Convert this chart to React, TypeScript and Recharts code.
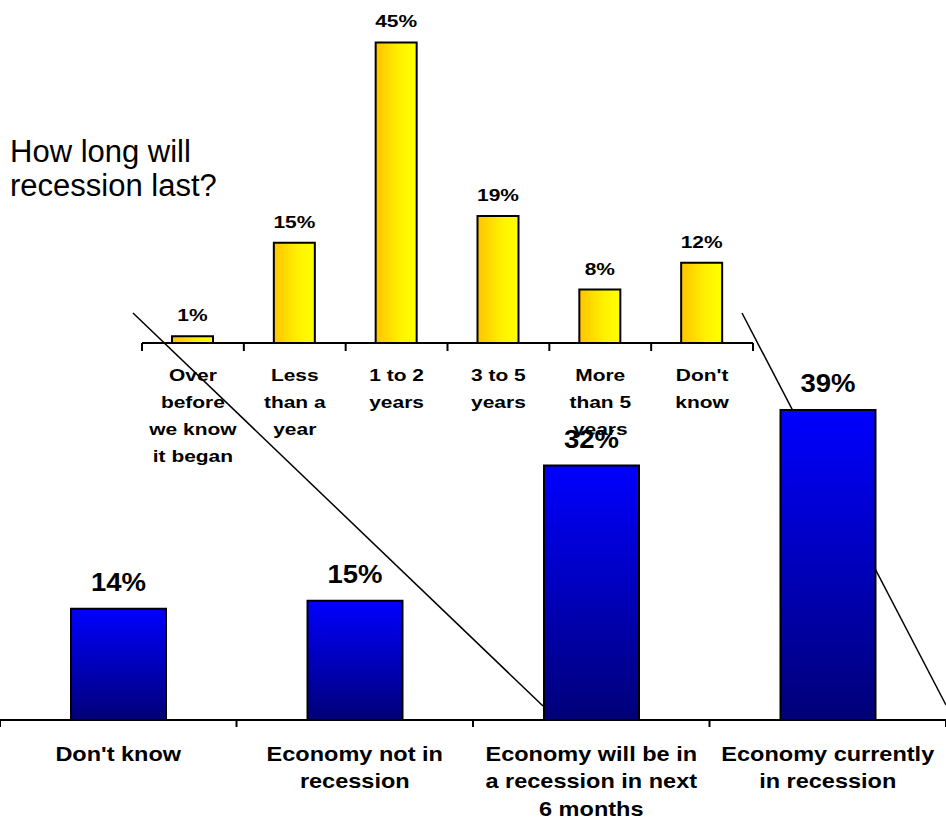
import React from 'react';
import { BarChart, Bar, XAxis, YAxis, LabelList } from 'recharts';

// how long will the recession last (small yellow chart)
const durationCategories = [
  'Over before we know it began',
  'Less than a year',
  '1 to 2 years',
  '3 to 5 years',
  'More than 5 years',
  "Don't know",
];
const durationValues = [1, 15, 45, 19, 8, 12];

// state of the economy (big blue chart)
const outlookCategories = [
  "Don't know",
  'Economy not in recession',
  'Economy will be in a recession in next 6 months',
  'Economy currently in recession',
];
const outlookValues = [14, 15, 32, 39];

const titleLines = ['How long will', 'recession last?'];

const durationData = durationCategories.map((name, i) => ({ name, value: durationValues[i] }));
const outlookData = outlookCategories.map((name, i) => ({ name, value: outlookValues[i] }));

const FONT = 'Arial, "Liberation Sans", Helvetica, sans-serif';

const wrap = (label: string, maxChars: number) => {
  const lines: string[] = [];
  let cur = '';
  label.split(' ').forEach((w) => {
    const next = cur ? cur + ' ' + w : w;
    if (next.length > maxChars && cur) {
      lines.push(cur);
      cur = w;
    } else {
      cur = next;
    }
  });
  if (cur) lines.push(cur);
  return lines;
};

type TickOpts = {
  maxChars: number;
  fontSize: number;
  scaleX: number;
  firstDy: number;
  lineGap: number;
  tickLen: number;
  half: number;
};

const makeTick = (o: TickOpts) => (props: any) => {
  const { x, y, payload, index, visibleTicksCount } = props;
  const lines = wrap(String(payload.value), o.maxChars);
  return (
    <g>
      <line x1={x - o.half} x2={x - o.half} y1={y} y2={y + o.tickLen} stroke="#000" strokeWidth={2} />
      {index === visibleTicksCount - 1 && (
        <line x1={x + o.half} x2={x + o.half} y1={y} y2={y + o.tickLen} stroke="#000" strokeWidth={2} />
      )}
      <text
        transform={`translate(${x},${y + o.firstDy}) scale(${o.scaleX},1)`}
        textAnchor="middle"
        fontSize={o.fontSize}
        fontWeight="bold"
        fontFamily={FONT}
        fill="#000"
      >
        {lines.map((l, i) => (
          <tspan key={i} x={0} y={i * o.lineGap}>
            {l}
          </tspan>
        ))}
      </text>
    </g>
  );
};

const makeValueLabel = (fontSize: number, scaleX: number, offset: number) => (props: any) => {
  const { x, y, width, value } = props;
  return (
    <text
      transform={`translate(${Number(x) + Number(width) / 2},${Number(y) - offset}) scale(${scaleX},1)`}
      textAnchor="middle"
      fontSize={fontSize}
      fontWeight="bold"
      fontFamily={FONT}
      fill="#000"
    >
      {value}%
    </text>
  );
};

const W = 946;
const H = 819;

export default function App() {
  return (
    <div style={{ position: 'absolute', left: 0, top: 0, width: W, height: H, background: '#fff' }}>
      <div style={{ position: 'absolute', left: 0, top: 0 }}>
        <BarChart width={W} height={480} data={durationData} margin={{ top: 9, right: 193, left: 142, bottom: 0 }}>
          <defs>
            <linearGradient id="yellowGrad" x1="0" y1="0" x2="1" y2="0">
              <stop offset="0%" stopColor="#FFC400" />
              <stop offset="60%" stopColor="#FFF200" />
              <stop offset="100%" stopColor="#FFFF00" />
            </linearGradient>
          </defs>
          <XAxis
            dataKey="name"
            interval={0}
            height={137}
            tickSize={0}
            tickMargin={0}
            axisLine={{ stroke: '#000', strokeWidth: 2 }}
            tickLine={false}
            tick={makeTick({ maxChars: 8, fontSize: 16.5, scaleX: 1.27, firstDy: 38, lineGap: 27, tickLen: 8, half: 611 / 12 })}
          />
          <YAxis hide width={0} domain={[0, 50]} />
          <Bar dataKey="value" barSize={41} fill="url(#yellowGrad)" stroke="#000" strokeWidth={2} isAnimationActive={false}>
            <LabelList dataKey="value" content={makeValueLabel(16.5, 1.27, 15)} />
          </Bar>
        </BarChart>
      </div>
      <svg width={W} height={H} style={{ position: 'absolute', left: 0, top: 0 }}>
        <text fontFamily={FONT} fontSize={31} fill="#000">
          {titleLines.map((l, i) => (
            <tspan key={i} x={10} y={162 + i * 34}>
              {l}
            </tspan>
          ))}
        </text>
        <line x1={133} y1={313} x2={543} y2={706} stroke="#000" strokeWidth={1.5} />
        <line x1={742} y1={313} x2={946} y2={705} stroke="#000" strokeWidth={1.5} />
      </svg>
      <div style={{ position: 'absolute', left: 0, top: 0 }}>
        <BarChart width={W} height={H} data={outlookData} margin={{ top: 322.5, right: 0, left: 0, bottom: 0 }}>
          <defs>
            <linearGradient id="blueGrad" x1="0" y1="0" x2="0" y2="1">
              <stop offset="0%" stopColor="#0000FF" />
              <stop offset="100%" stopColor="#000078" />
            </linearGradient>
          </defs>
          <XAxis
            dataKey="name"
            interval={0}
            height={99}
            tickSize={0}
            tickMargin={0}
            axisLine={{ stroke: '#000', strokeWidth: 2 }}
            tickLine={false}
            tick={makeTick({ maxChars: 19, fontSize: 21, scaleX: 1.12, firstDy: 41, lineGap: 27.5, tickLen: 7, half: W / 8 })}
          />
          <YAxis hide width={0} domain={[0, 50]} />
          <Bar dataKey="value" barSize={95} fill="url(#blueGrad)" stroke="#000" strokeWidth={2} isAnimationActive={false}>
            <LabelList dataKey="value" content={makeValueLabel(25, 1.1, 18)} />
          </Bar>
        </BarChart>
      </div>
    </div>
  );
}
